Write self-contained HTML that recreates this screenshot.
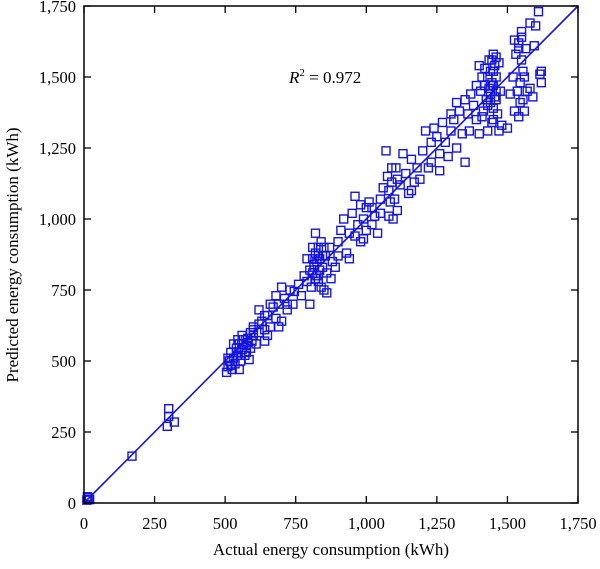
<!DOCTYPE html>
<html><head><meta charset="utf-8"><style>
body{margin:0;background:#fff}
svg text{font-family:"Liberation Serif",serif;fill:#000}
</style></head><body>
<svg id="chart" width="600" height="564">
<g id="marks"></g>
<g id="axes"></g>
</svg>
<script>
const xTicks=[0,250,500,750,1000,1250,1500,1750];
const yTicks=[0,250,500,750,1000,1250,1500,1750];
const tickLabels=["0","250","500","750","1,000","1,250","1,500","1,750"];
const actual=[10,15,20,12,170,295,300,300,320,
505,510,515,520,525,530,535,540,545,550,555,560,565,570,575,580,585,590,595,600,510,530,550,560,575,590,520,545,
600,610,620,630,640,650,660,670,680,690,700,710,720,730,740,620,650,680,700,720,660,640,690,745,
760,770,780,790,800,805,810,815,820,825,830,835,840,845,850,855,860,870,880,800,790,820,830,840,810,850,860,875,890,900,
900,910,920,930,940,950,960,970,980,990,1000,1010,1020,1030,1040,1050,960,990,1020,1050,940,980,1000,
1060,1070,1075,1080,1085,1090,1095,1100,1105,1110,1120,1130,1140,1150,1160,1170,1180,1090,1110,1080,1160,1190,
1200,1210,1220,1230,1240,1250,1260,1270,1280,1290,1300,1310,1320,1330,1340,1350,1260,1230,1300,1320,
1350,1360,1365,1370,1380,1390,1400,1405,1410,1415,1420,1425,1430,1435,1440,1445,1450,1455,1460,1465,1470,1475,1480,1430,1440,1450,1460,1470,1420,1410,1450,1460,1400,1390,
1500,1510,1520,1525,1530,1535,1540,1545,1550,1555,1560,1565,1570,1580,1590,1595,1600,1610,1620,1615,1620,1540,1550,1525,1580,
540,555,565,580,600,620,640,815,825,835,845,830,820,810,1440,1445,1450,1455,1435,1440,1450,1460,1430,1445,1540,1550,1545,1555,1560];
const predicted=[10,18,12,22,165,270,305,332,285,
460,480,500,530,470,510,490,545,520,560,500,540,575,520,555,580,505,545,570,590,510,560,470,590,530,600,485,575,
620,560,600,640,610,660,620,690,650,700,640,720,680,750,700,680,590,730,760,700,700,570,620,745,
770,730,800,860,820,760,900,840,880,800,780,860,920,830,750,870,810,900,850,700,780,950,870,760,810,900,740,790,830,870,
920,960,1000,880,950,1020,1080,980,920,1000,1040,1060,980,1010,950,1020,940,930,1040,1070,860,1050,960,
1110,1240,1150,1100,1060,1130,1000,1070,1180,1030,1120,1230,1160,1090,1210,1130,1180,1180,1140,1010,1100,1140,
1240,1310,1180,1270,1320,1290,1230,1340,1270,1220,1310,1350,1250,1380,1300,1200,1170,1200,1370,1410,
1420,1370,1310,1440,1400,1350,1300,1450,1500,1380,1530,1420,1310,1560,1470,1340,1580,1430,1500,1370,1550,1450,1330,1400,1520,1470,1420,1310,1470,1360,1350,1570,1540,1470,
1320,1440,1500,1380,1580,1450,1620,1410,1660,1520,1380,1600,1450,1690,1430,1610,1680,1730,1480,1510,1520,1360,1560,1630,1460,
530,520,560,565,610,630,660,830,850,820,870,900,790,860,1440,1480,1520,1540,1460,1410,1390,1450,1500,1560,1600,1640,1480,1420,1500];
const X0=84,X1=578,Y0=503,Y1=6,MAX=1750;
const sx=v=>X0+(X1-X0)*v/MAX, sy=v=>Y0-(Y0-Y1)*v/MAX;
const NS="http://www.w3.org/2000/svg";
function mk(tag,attrs,parent){const e=document.createElementNS(NS,tag);for(const k in attrs)e.setAttribute(k,attrs[k]);parent.appendChild(e);return e;}
const marks=document.getElementById('marks'), axes=document.getElementById('axes');
for(let i=0;i<actual.length;i++){
 const r=mk('rect',{x:sx(actual[i])-4,y:sy(predicted[i])-4,width:8,height:8,fill:'none',stroke:'#1515e0','stroke-width':1.4},marks);
 
 
}
const fit=mk('line',{x1:sx(0),y1:sy(0),x2:sx(1750),y2:sy(1750),stroke:'#1515e0','stroke-width':1.6},marks);


const frame=mk('rect',{x:X0,y:Y1,width:X1-X0,height:Y0-Y1,fill:'none',stroke:'#000','stroke-width':1.5},axes);


xTicks.forEach((v,i)=>{
 mk('line',{x1:sx(v),y1:Y0,x2:sx(v),y2:Y0-7,stroke:'#000','stroke-width':1.3},axes);
 mk('line',{x1:sx(v),y1:Y1,x2:sx(v),y2:Y1+7,stroke:'#000','stroke-width':1.3},axes);
 const t=mk('text',{x:sx(v),y:Y0+26,'text-anchor':'middle','font-size':16.5},axes);
 t.textContent=tickLabels[i];
 
 
});
yTicks.forEach((v,i)=>{
 mk('line',{x1:X0,y1:sy(v),x2:X0+7,y2:sy(v),stroke:'#000','stroke-width':1.3},axes);
 mk('line',{x1:X1,y1:sy(v),x2:X1-7,y2:sy(v),stroke:'#000','stroke-width':1.3},axes);
 const t=mk('text',{x:X0-8,y:sy(v)+6,'text-anchor':'end','font-size':16.5},axes);
 t.textContent=tickLabels[i];
 
 
});
</script>
<svg width="600" height="564" style="position:absolute;left:0;top:0">
<text x="331" y="555" text-anchor="middle" font-size="17">Actual energy consumption (kWh)</text>
<text transform="translate(18,255) rotate(-90)" text-anchor="middle" font-size="17">Predicted energy consumption (kWh)</text>
<text x="289" y="83" font-size="17"><tspan font-style="italic">R</tspan><tspan font-size="11" dy="-7">2</tspan><tspan dy="7"> = 0.972</tspan></text>
</svg>
</body></html>
